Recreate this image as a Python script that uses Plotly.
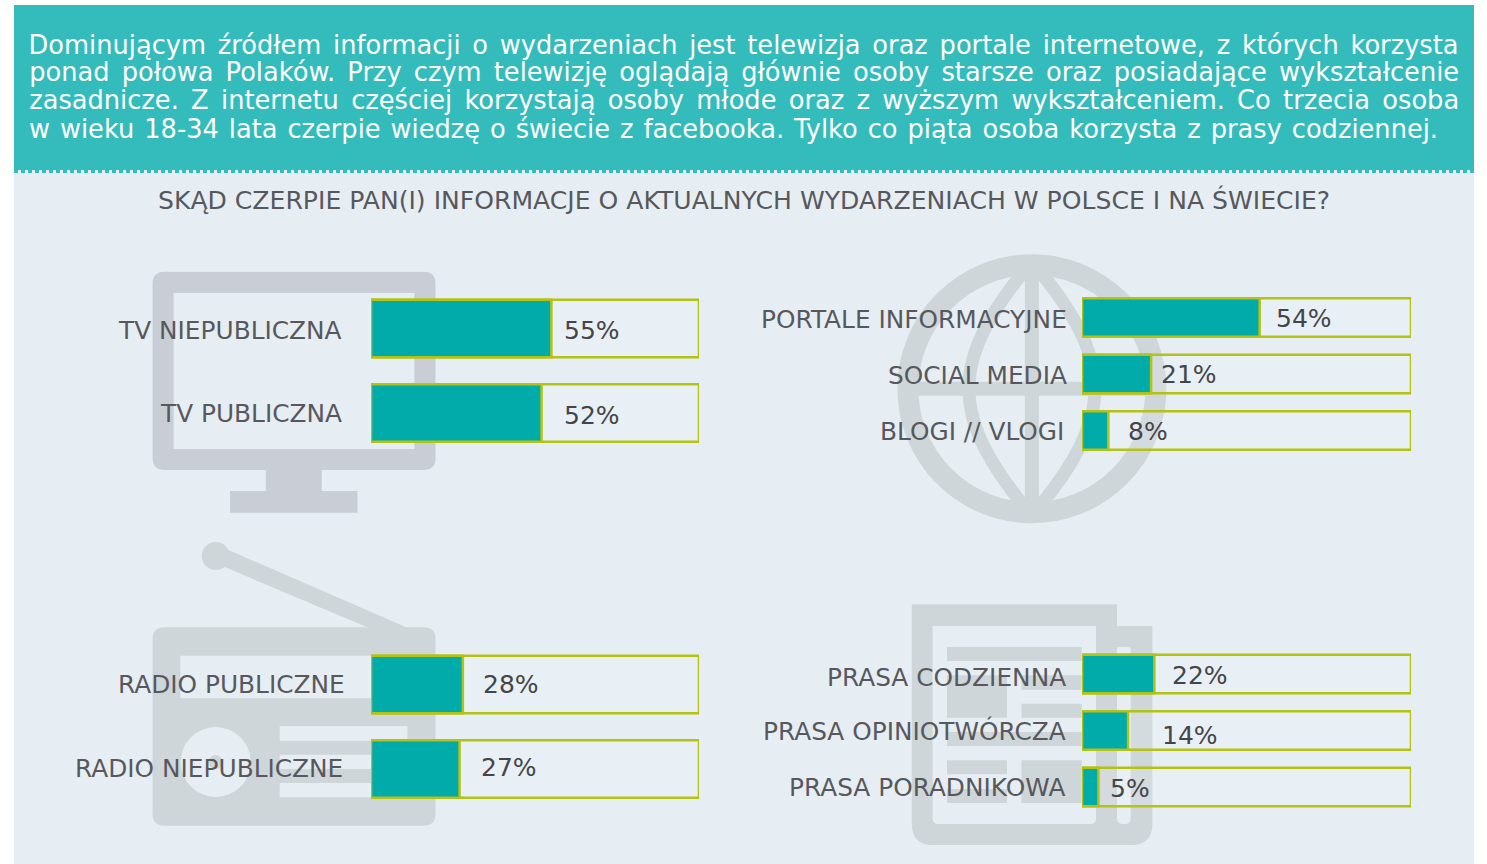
import json
import plotly.graph_objects as go

W, H = 1487, 864

# ---------- data ----------
tv_labels = ["TV NIEPUBLICZNA", "TV PUBLICZNA"]
tv_values = [55, 52]
web_labels = ["PORTALE INFORMACYJNE", "SOCIAL MEDIA", "BLOGI // VLOGI"]
web_values = [54, 21, 8]
radio_labels = ["RADIO PUBLICZNE", "RADIO NIEPUBLICZNE"]
radio_values = [28, 27]
press_labels = ["PRASA CODZIENNA", "PRASA OPINIOTWÓRCZA", "PRASA PORADNIKOWA"]
press_values = [22, 14, 5]

header_lines = [
    "Dominującym źródłem informacji o wydarzeniach jest telewizja oraz portale internetowe, z których korzysta",
    "ponad połowa Polaków. Przy czym telewizję oglądają głównie osoby starsze oraz posiadające wykształcenie",
    "zasadnicze. Z internetu częściej korzystają osoby młode oraz z wyższym wykształceniem. Co trzecia osoba",
    "w wieku 18-34 lata czerpie wiedzę o świecie z facebooka. Tylko co piąta osoba korzysta z prasy codziennej.",
]
question = "SKĄD CZERPIE PAN(I) INFORMACJE O AKTUALNYCH WYDARZENIACH W POLSCE I NA ŚWIECIE?"

# ---------- layout helpers (pixels of the page) ----------
HEAD_FONT = "DejaVu Sans"
LABEL_FONT = "DejaVu Sans"
TEAL_HEAD = "#33bcbb"
PANEL = "#e6eef4"
TV_GREY = "#c8cdd6"
ICON_GREY = "#ced6da"
BAR = "#00abaa"
EDGE = "#b4c214"
LABEL_COL = "#58585c"
VALUE_COL = "#454547"


def px(x):
    return x / W


def py(y):
    return 1 - y / H


def rect(x0, y0, x1, y1, color):
    return dict(type="rect", xref="paper", yref="paper", x0=px(x0), x1=px(x1), y0=py(y0), y1=py(y1),
                fillcolor=color, line_width=0, layer="below")


def circle(cx, cy, r, color, width=0):
    fill = "rgba(0,0,0,0)" if width else color
    return dict(type="circle", xref="paper", yref="paper", x0=px(cx - r), x1=px(cx + r), y0=py(cy - r), y1=py(cy + r),
                fillcolor=fill, line=dict(color=color, width=width), layer="below")


def path(points, color, width=0, fill=True):
    """points: list of tokens, either command letters or (x, y) pixel tuples."""
    out = []
    for p in points:
        out.append(p if isinstance(p, str) else f"{px(p[0]):.6f},{py(p[1]):.6f}")
    return dict(type="path", xref="paper", yref="paper", path=" ".join(out),
                fillcolor=color if fill else "rgba(0,0,0,0)",
                line=dict(color=color, width=width), layer="below")


def round_rect(x0, y0, x1, y1, r, color, rb=None):
    rb = r if rb is None else rb
    pts = ["M", (x0 + r, y0), "L", (x1 - r, y0), "Q", (x1, y0), (x1, y0 + r), "L", (x1, y1 - rb),
           "Q", (x1, y1), (x1 - rb, y1), "L", (x0 + rb, y1), "Q", (x0, y1), (x0, y1 - rb), "L", (x0, y0 + r),
           "Q", (x0, y0), (x0 + r, y0), "Z"]
    return path(pts, color)


shapes = [
    rect(14, 170, 1474, 864, PANEL),
    rect(14, 5, 1474, 170, TEAL_HEAD),
    dict(type="line", xref="paper", yref="paper", x0=px(14), x1=px(1474), y0=py(171.5), y1=py(171.5),
         line=dict(color=TEAL_HEAD, width=3, dash="4px,3px"), layer="below"),
]

# television
shapes += [
    rect(265.8, 465, 321.8, 491, TV_GREY),
    rect(230, 491, 357.5, 512.7, TV_GREY),
    round_rect(152.6, 271.7, 435.5, 470, 12, TV_GREY),
    rect(173.6, 293, 414.4, 449, PANEL),
]

# globe
gx, gy = 1031.9, 388.7
shapes += [
    circle(gx, gy, 124, ICON_GREY, 21),
    rect(gx - 7, gy - 128, gx + 7, gy + 128, ICON_GREY),
    rect(gx - 128, gy - 7, gx + 128, gy + 7, ICON_GREY),
    path(["M", (gx, gy - 127), "C", (gx - 40, gy - 80), (gx - 63, gy - 40), (gx - 63, gy),
          "C", (gx - 63, gy + 40), (gx - 40, gy + 80), (gx, gy + 127)], ICON_GREY, 13, False),
    path(["M", (gx, gy - 127), "C", (gx + 40, gy - 80), (gx + 63, gy - 40), (gx + 63, gy),
          "C", (gx + 63, gy + 40), (gx + 40, gy + 80), (gx, gy + 127)], ICON_GREY, 13, False),
]

# radio
shapes += [
    circle(215.7, 556, 14, ICON_GREY),
    path(["M", (224, 548), "L", (408, 628), "L", (369, 628), "L", (220, 565), "Z"], ICON_GREY),
    round_rect(152.6, 627.3, 435.5, 825.7, 12, ICON_GREY),
    rect(180.4, 655.7, 407.5, 698.3, PANEL),
    circle(215.7, 762, 35, PANEL),
    circle(215.7, 762, 7, ICON_GREY),
    rect(279.7, 726.3, 407.5, 740.7, PANEL),
    rect(279.7, 754.7, 407.5, 769, PANEL),
    rect(279.7, 783, 407.5, 797.3, PANEL),
]

# newspaper
shapes += [
    path(["M", (911.8, 604.3), "L", (1117, 604.3), "L", (1117, 626), "L", (1152.4, 626), "L", (1152.4, 824),
          "Q", (1152.4, 845), (1131, 845), "L", (933, 845), "Q", (911.8, 845), (911.8, 824), "Z"], ICON_GREY),
    round_rect(932.6, 626, 1096, 824, 0.1, PANEL, 6),
    round_rect(1117, 647, 1130.7, 824, 2, PANEL, 6),
    rect(947, 647, 1081.7, 661, ICON_GREY),
    rect(947, 675.3, 1007, 717.7, ICON_GREY),
    rect(1021.5, 675.3, 1081.7, 689.7, ICON_GREY),
    rect(1021.5, 703.7, 1081.7, 717.7, ICON_GREY),
    rect(947, 732, 1081.7, 746, ICON_GREY),
    rect(947, 760.3, 1007, 774.3, ICON_GREY),
    rect(947, 789, 1007, 803, ICON_GREY),
    rect(1021.5, 760.3, 1081.7, 803, ICON_GREY),
]

# ---------- bar panels ----------
panels = [
    dict(labels=tv_labels, values=tv_values, x=(371, 699), first=328.5, step=84.5, gap=0.32,
         label_pos=[(344, 330), (344, 413)], value_pos=[(562, 330), (562, 415)]),
    dict(labels=web_labels, values=web_values, x=(1082, 1411), first=317.5, step=56.5, gap=0.32,
         label_pos=[(1069, 319), (1069, 375), (1066, 431)],
         value_pos=[(1274, 318), (1159, 374), (1126, 431)]),
    dict(labels=radio_labels, values=radio_values, x=(371, 699), first=684.5, step=84.5, gap=0.32,
         label_pos=[(347, 684), (345, 768)], value_pos=[(481, 684), (479, 767)]),
    dict(labels=press_labels, values=press_values, x=(1082, 1411), first=674, step=56.5, gap=0.32,
         label_pos=[(1068, 677), (1068, 731), (1067, 787)],
         value_pos=[(1170, 675), (1160, 735), (1108, 788)]),
]

fig = go.Figure()
annotations = []
layout_axes = {}
for i, p in enumerate(panels, start=1):
    xa, ya = f"x{i}", f"y{i}"
    n = len(p["labels"])
    fig.add_trace(go.Bar(x=[100] * n, y=p["labels"], orientation="h", xaxis=xa, yaxis=ya, showlegend=False,
                         width=1 - p["gap"], marker=dict(color="rgba(255,255,255,0.12)", line=dict(color=EDGE, width=2.5)),
                         hoverinfo="skip"))
    fig.add_trace(go.Bar(x=p["values"], y=p["labels"], orientation="h", xaxis=xa, yaxis=ya, showlegend=False,
                         width=1 - p["gap"], marker=dict(color=BAR, line=dict(color=EDGE, width=2.5))))
    top = p["first"] - p["step"] / 2
    bottom = top + n * p["step"]
    layout_axes[f"xaxis{i}"] = dict(domain=[px(p["x"][0]), px(p["x"][1])], range=[0, 100], visible=False, anchor=ya)
    layout_axes[f"yaxis{i}"] = dict(domain=[py(bottom), py(top)], range=[n - 0.5, -0.5], type="category",
                                    categoryorder="array", categoryarray=p["labels"], visible=False, anchor=xa)
    for lab, (lx, ly) in zip(p["labels"], p["label_pos"]):
        annotations.append(dict(text=lab, xref="paper", yref="paper", x=px(lx), y=py(ly), xanchor="right",
                                yanchor="middle", showarrow=False,
                                font=dict(family=LABEL_FONT, size=24.8, color=LABEL_COL)))
    for v, (vx, vy) in zip(p["values"], p["value_pos"]):
        annotations.append(dict(text=f"{v}%", xref="paper", yref="paper", x=px(vx), y=py(vy), xanchor="left",
                                yanchor="middle", showarrow=False,
                                font=dict(family=LABEL_FONT, size=25, color=VALUE_COL)))

# ---------- text ----------
header_span = [(29, 1459), (29, 1459), (29, 1459), (29, 1438)]
header_y = [44.5, 72.5, 100.5, 128.5]
for line, (x0, x1), y in zip(header_lines, header_span, header_y):
    annotations.append(dict(text=line, xref="paper", yref="paper", x=px((x0 + x1) / 2), y=py(y), xanchor="center",
                            yanchor="middle", showarrow=False,
                            font=dict(family=HEAD_FONT, size=25.7, color="white")))
annotations.append(dict(text=question, xref="paper", yref="paper", x=px(743.5), y=py(200), xanchor="center",
                        yanchor="middle", showarrow=False, font=dict(family=LABEL_FONT, size=25.1, color=LABEL_COL)))

fig.update_layout(width=W, height=H, margin=dict(l=0, r=0, t=0, b=0, pad=0), paper_bgcolor="white",
                  plot_bgcolor="rgba(0,0,0,0)", barmode="overlay", shapes=shapes, annotations=annotations,
                  **layout_axes)

targets = {line: x1 - x0 for line, (x0, x1) in zip(header_lines, header_span)}
post = """
document.body.style.margin='0';
document.body.style.overflow='hidden';
(function(){
  var gd=document.getElementById('{plot_id}');
  var targets=TARGETS;
  function justify(){
    gd.querySelectorAll('.annotation-text').forEach(function(t){
      var key=t.textContent;
      if(!(key in targets)) return;
      t.style.wordSpacing='0px';
      var n=key.split(' ').length-1;
      var d=(targets[key]-t.getComputedTextLength())/n;
      t.style.whiteSpace='pre';
      t.style.wordSpacing=d+'px';
    });
  }
  justify();
  setTimeout(justify,200);
})();
""".replace("TARGETS", json.dumps(targets, ensure_ascii=False))

fig.write_html("out.html", post_script=post, config=dict(displayModeBar=False))
